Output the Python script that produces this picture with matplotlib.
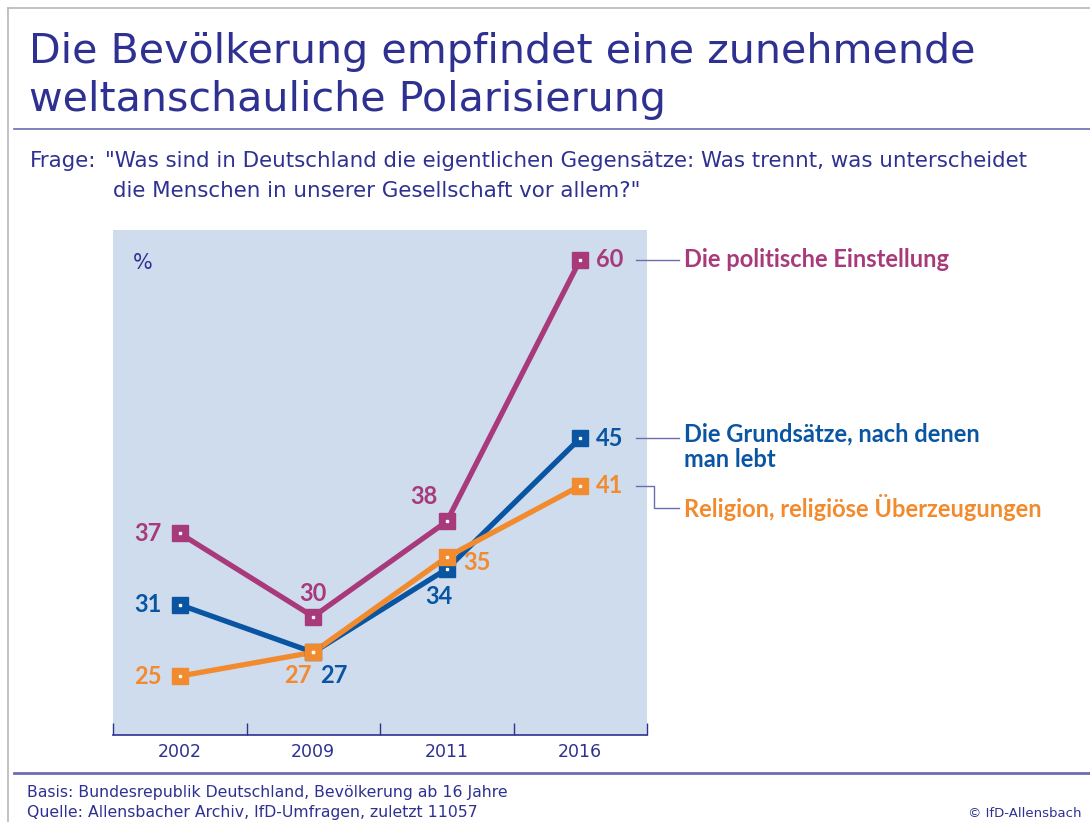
import numpy as np
import matplotlib.pyplot as plt
from matplotlib.lines import Line2D

# data
years = ["2002", "2009", "2011", "2016"]
politik = [37, 30, 38, 60]
grundsaetze = [31, 27, 34, 45]
religion = [25, 27, 35, 41]

names = ["Die politische Einstellung",
         "Die Grundsätze, nach denen\nman lebt",
         "Religion, religiöse Überzeugungen"]

c_pol = "#a83a7b"
c_gru = "#0a55a2"
c_rel = "#f28a2e"
c_txt = "#2e3191"
c_rule = "#6c6cb0"
bg = "#cfdcee"

W, H = 1090, 822
fig = plt.figure(figsize=(W / 100, H / 100), dpi=100)
fig.patch.set_facecolor("white")

def fx(x): return x / W
def fy(y): return 1 - y / H

LIGHT = "DejaVu Sans"
BOLD = "Lato"

# frame and rules
fig.add_artist(Line2D([fx(8), fx(8)], [fy(8), 0], color="#b8b8b8", lw=1.2))
fig.add_artist(Line2D([fx(8), 1], [fy(8), fy(8)], color="#b8b8b8", lw=1.2))
fig.add_artist(Line2D([fx(14), 1], [fy(129), fy(129)], color=c_rule, lw=1.2))
fig.add_artist(Line2D([fx(14), 1], [fy(773), fy(773)], color=c_rule, lw=2))

fig.text(fx(29), fy(63), "Die Bevölkerung empfindet eine zunehmende", fontsize=29.6,
         color=c_txt, family=LIGHT, va="baseline")
fig.text(fx(29), fy(111), "weltanschauliche Polarisierung", fontsize=29.6,
         color=c_txt, family=LIGHT, va="baseline")
fig.text(fx(30), fy(167), "Frage:", fontsize=15.4, color=c_txt, family=LIGHT,
         va="baseline")
fig.text(fx(105), fy(167), "\"Was sind in Deutschland die eigentlichen Gegensätze: Was trennt, was unterscheidet",
         fontsize=15.4, color=c_txt, family=LIGHT, va="baseline")
fig.text(fx(113), fy(197), "die Menschen in unserer Gesellschaft vor allem?\"",
         fontsize=15.4, color=c_txt, family=LIGHT, va="baseline")

fig.text(fx(27), fy(797), "Basis: Bundesrepublik Deutschland, Bevölkerung ab 16 Jahre",
         fontsize=11.3, color=c_txt, family=LIGHT, va="baseline")
fig.text(fx(27), fy(817), "Quelle: Allensbacher Archiv, IfD-Umfragen, zuletzt 11057",
         fontsize=11.3, color=c_txt, family=LIGHT, va="baseline")
fig.text(fx(1082), fy(817), "© IfD-Allensbach", fontsize=9.5, color=c_txt, family=LIGHT,
         va="baseline", ha="right")

# chart
ax = fig.add_axes([fx(113), fy(735), fx(647) - fx(113), fy(230) - fy(735)])
ax.set_facecolor(bg)
x = np.arange(len(years))
ax.set_xlim(-0.5, 3.5)
ax.set_ylim(20.05, 62.5)

series = [(politik, c_pol), (grundsaetze, c_gru), (religion, c_rel)]
for vals, col in [(grundsaetze, c_gru), (politik, c_pol), (religion, c_rel)]:
    ax.plot(x, vals, color=col, lw=3.8, solid_joinstyle="miter", zorder=3)
    ax.plot(x, vals, ls="none", marker="s", ms=12, color=col, mec=col, zorder=4)
    ax.plot(x, vals, ls="none", marker="s", ms=2, color="white", mec="white", zorder=5)

# label offsets in points (dx, dy, ha)
offs = {
    0: [(-13, 0, "right"), (0, 17, "center"), (-7, 18, "right"), (11, 0, "left")],
    1: [(-13, 0, "right"), (5, -17, "left"), (-6, -20, "center"), (11, 0, "left")],
    2: [(-13, 0, "right"), (-1, -17, "right"), (12, -4, "left"), (11, 0, "left")],
}
for si, (vals, col) in enumerate(series):
    for i, v in enumerate(vals):
        dx, dy, ha = offs[si][i]
        ax.annotate(str(v), (x[i], v), xytext=(dx, dy), textcoords="offset points",
                    ha=ha, va="center", fontsize=17, fontweight="bold",
                    color=col, family=BOLD, zorder=6)

ax.text(0.037, 0.935, "%", transform=ax.transAxes, fontsize=15, color=c_txt,
        family=LIGHT, ha="left", va="center")

for s in ["top", "right", "left"]:
    ax.spines[s].set_visible(False)
ax.spines["bottom"].set_color(c_txt)
ax.spines["bottom"].set_linewidth(1.2)
ax.set_yticks([])
ax.set_xticks(np.arange(-0.5, 4, 1))
ax.tick_params(axis="x", direction="in", length=9, width=1, color=c_txt, labelbottom=False)
for i, yr in enumerate(years):
    ax.text(x[i], -0.015, yr, transform=ax.get_xaxis_transform(), ha="center", va="top",
            fontsize=12.5, color=c_txt, family=LIGHT)

# legend labels with connectors
lx0, lx1, tx = 3.42, 3.74, 3.78
ends = [politik[-1], grundsaetze[-1], religion[-1]]
ax.plot([lx0, lx1], [ends[0], ends[0]], color=c_rule, lw=1, clip_on=False)
ax.plot([lx0, lx1], [ends[1], ends[1]], color=c_rule, lw=1, clip_on=False)
yrel = ends[2] - 1.85
ax.plot([lx0, 3.55, 3.55, lx1], [ends[2], ends[2], yrel, yrel], color=c_rule, lw=1, clip_on=False)
ax.text(tx, ends[0], names[0], ha="left", va="center", fontsize=17, fontweight="bold",
        color=c_pol, family=BOLD, clip_on=False)
ax.text(tx, ends[1] + 1.3, names[1], ha="left", va="top", fontsize=17, fontweight="bold",
        color=c_gru, family=BOLD, clip_on=False, linespacing=1.1)
ax.text(tx, yrel, names[2], ha="left", va="center", fontsize=17, fontweight="bold",
        color=c_rel, family=BOLD, clip_on=False)

fig.savefig("out.png", dpi=100)
